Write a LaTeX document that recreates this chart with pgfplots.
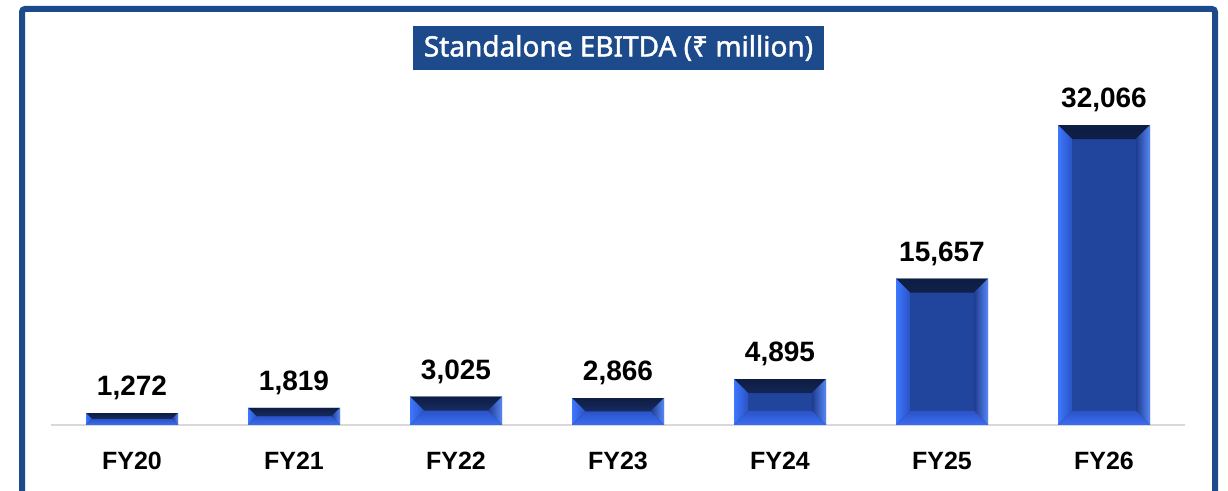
\documentclass[border=0pt]{standalone}
\usepackage{pgfplots}
\pgfplotsset{compat=1.18}
\usepackage{fontspec}
\setmainfont{Liberation Sans}
\newfontfamily\titlefont{Noto Sans}[FakeBold=1.6]
\definecolor{framec}{HTML}{1C4A8A}
\definecolor{barmid}{HTML}{21449C}
\definecolor{topout}{HTML}{0E1D42}
\definecolor{topin}{HTML}{1E3A84}
\definecolor{leftout}{HTML}{3D78FF}
\definecolor{leftin}{HTML}{2A52C4}
\definecolor{rightout}{HTML}{5588F5}
\definecolor{rightin}{HTML}{1F3B8E}
\definecolor{botout}{HTML}{3B6CF2}
\definecolor{botin}{HTML}{2C54C8}
\definecolor{basec}{HTML}{D9D9D9}
\pgfplotstableread{
x val
0 1272
1 1819
2 3025
3 2866
4 4895
5 15657
6 32066
}\ebitda
\tikzset{bevelbar/.style={
  path picture={%
    \pgfpointanchor{path picture bounding box}{south west}\pgfgetlastxy{\bbx}{\bby}%
    \pgfpointanchor{path picture bounding box}{north east}\pgfgetlastxy{\bex}{\bey}%
    \ifdim\bey>\bby
    \pgfmathsetlengthmacro{\bev}{min(7pt,0.5*\bey-0.5*\bby)}%
    \path[path picture={}, top color=topout,bottom color=topin]
        (\bbx,\bey) -- (\bex,\bey) -- ({\bex-\bev},{\bey-\bev}) -- ({\bbx+\bev},{\bey-\bev}) -- cycle;
    \path[path picture={}, left color=leftout,right color=leftin]
        (\bbx,\bby) -- (\bbx,\bey) -- ({\bbx+\bev},{\bey-\bev}) -- ({\bbx+\bev},{\bby+\bev}) -- cycle;
    \path[path picture={}, left color=rightin,right color=rightout]
        (\bex,\bby) -- (\bex,\bey) -- ({\bex-\bev},{\bey-\bev}) -- ({\bex-\bev},{\bby+\bev}) -- cycle;
    \path[path picture={}, top color=botin,bottom color=botout]
        (\bbx,\bby) -- (\bex,\bby) -- ({\bex-\bev},{\bby+\bev}) -- ({\bbx+\bev},{\bby+\bev}) -- cycle;
    \fi
  }}}
\begin{document}
\begin{tikzpicture}
\useasboundingbox (0,0) rectangle (614pt,245.5pt);
\fill[white] (0,0) rectangle (614pt,245.5pt);
\draw[framec,line width=3pt,rounded corners=1.5pt] (11pt,0) -- (11pt,241pt) -- (607.5pt,241pt) -- (607.5pt,0);
\begin{axis}[
  at={(25.5pt,33pt)}, anchor=south west,
  scale only axis, width=567pt, height=187.1pt,
  xmin=-0.5, xmax=6.5, ymin=0, ymax=40000,
  axis x line=bottom, x axis line style={draw=basec,line width=0.8pt,-},
  hide y axis,
  xtick={0,1,2,3,4,5,6}, xticklabels={FY20,FY21,FY22,FY23,FY24,FY25,FY26},
  major tick length=0pt,
  xticklabel style={font=\bfseries\fontsize{12.5}{14}\selectfont, yshift=-10pt},
  ybar, bar width=46pt, bar shift=0pt,
  /pgf/number format/.cd, fixed, precision=0, 1000 sep={,}, assume math mode=true,
  /pgfplots/.cd,
  nodes near coords style={font=\bfseries\fontsize{14}{16}\selectfont, yshift=3pt, text=black},
  clip=false,
]
\addplot[fill=barmid, draw=none, bevelbar] coordinates {(0,1272)};
\addplot[fill=barmid, draw=none, bevelbar] coordinates {(1,1819)};
\addplot[fill=barmid, draw=none, bevelbar] coordinates {(2,3025)};
\addplot[fill=barmid, draw=none, bevelbar] coordinates {(3,2866)};
\addplot[fill=barmid, draw=none, bevelbar] coordinates {(4,4895)};
\addplot[fill=barmid, draw=none, bevelbar] coordinates {(5,15657)};
\addplot[fill=barmid, draw=none, bevelbar] coordinates {(6,32066)};
\addplot[fill=none, draw=none, nodes near coords] table[x=x,y=val]{\ebitda};
\end{axis}
\node[fill=framec, text=white, minimum width=205.5pt, minimum height=22pt, inner sep=0pt, font=\titlefont\fontsize{14}{16}\selectfont] at (309.25pt,221.5pt) {Standalone EBITDA (₹ million)};
\end{tikzpicture}
\end{document}
